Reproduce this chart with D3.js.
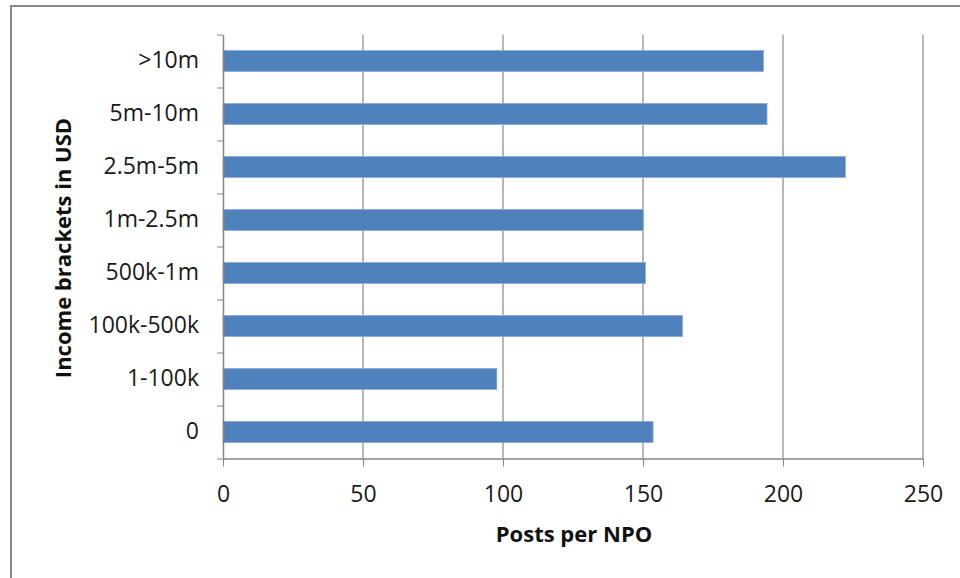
<!DOCTYPE html>
<html>
<head>
<meta charset="utf-8">
<script src="https://cdn.jsdelivr.net/npm/d3@7"></script>
<style>
  body { margin: 0; background: #fff; }
  svg { display: block; font-family: "Open Sans", Lato, sans-serif; }
  .axis path, .axis line { stroke: #868686; }
  .axis text { fill: #1a1a1a; font-size: 23px; font-family: "Open Sans", Lato, sans-serif; }
</style>
</head>
<body>
<svg id="chart"></svg>
<script>
// categories, top to bottom
const brackets = [">10m", "5m-10m", "2.5m-5m", "1m-2.5m", "500k-1m", "100k-500k", "1-100k", "0"];
// posts per NPO
const posts = [193, 194.3, 222.3, 150.1, 150.9, 164.1, 97.8, 153.6];
const xTicks = [0, 50, 100, 150, 200, 250];

const width = 960, height = 578;
const margin = {left: 223, right: 37, top: 34.5, bottom: 119.5};

const svg = d3.select("#chart")
    .attr("width", width)
    .attr("height", height);

// outer chart border (runs off the right and bottom edge)
svg.append("rect")
    .attr("x", 11).attr("y", 6)
    .attr("width", 980).attr("height", 620)
    .attr("fill", "#fff")
    .attr("stroke", "#878787")
    .attr("stroke-width", 2);

const xScale = d3.scaleLinear().domain([0, 250]).range([margin.left, width - margin.right]);
const yScale = d3.scaleBand().domain(brackets)
    .range([margin.top, height - margin.bottom])
    .paddingInner(0.6).paddingOuter(0.3);
// category edges for the little ticks on the y axis
const yEdge = d3.scaleLinear().domain([0, brackets.length]).range([margin.top, height - margin.bottom]);

// gridlines
svg.append("g")
    .selectAll("line")
    .data(xTicks.slice(1))
    .join("line")
    .attr("x1", d => xScale(d)).attr("x2", d => xScale(d))
    .attr("y1", margin.top).attr("y2", height - margin.bottom)
    .attr("stroke", "#878787")
    .attr("stroke-width", 1.2);

// bars
svg.append("g")
    .selectAll("rect")
    .data(posts)
    .join("rect")
    .attr("x", xScale(0))
    .attr("y", (d, i) => yScale(brackets[i]))
    .attr("width", d => xScale(d) - xScale(0))
    .attr("height", yScale.bandwidth())
    .attr("fill", "#4f81bd")
    .attr("stroke", "#8eaedb")
    .attr("stroke-width", 0.8);

// x axis
const xAxis = d3.axisBottom(xScale).tickValues(xTicks).tickSize(8).tickPadding(19).tickSizeOuter(0);
svg.append("g")
    .attr("class", "axis")
    .attr("transform", `translate(0,${height - margin.bottom})`)
    .call(xAxis)
    .call(g => g.select(".domain").attr("stroke-width", 1.5));

// y axis: edge ticks
svg.append("g")
    .attr("class", "axis")
    .attr("transform", `translate(${margin.left},0)`)
    .call(d3.axisLeft(yEdge).tickValues(d3.range(brackets.length + 1)).tickSize(6).tickFormat("").tickSizeOuter(0))
    .call(g => g.select(".domain").attr("stroke-width", 1.5));

// y axis: labels
svg.append("g")
    .attr("class", "axis")
    .attr("transform", `translate(${margin.left},0)`)
    .call(d3.axisLeft(yScale).tickSize(0).tickPadding(24))
    .call(g => g.select(".domain").remove());

// axis titles
svg.append("text")
    .attr("x", 574).attr("y", 542)
    .attr("text-anchor", "middle")
    .attr("font-size", 22).attr("font-weight", "bold")
    .attr("fill", "#111")
    .text("Posts per NPO");

svg.append("text")
    .attr("transform", "translate(71,248) rotate(-90)")
    .attr("text-anchor", "middle")
    .attr("font-size", 22).attr("font-weight", "bold")
    .attr("fill", "#111")
    .text("Income brackets in USD");
</script>
</body>
</html>
